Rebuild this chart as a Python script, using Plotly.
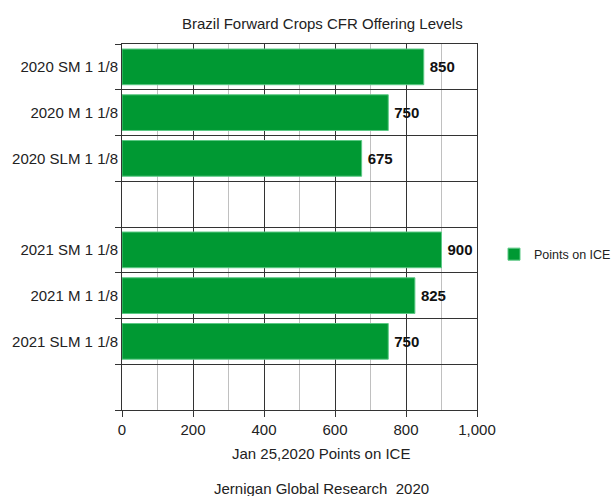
import plotly.graph_objects as go

categories = ["2020 SM 1 1/8", "2020 M 1 1/8", "2020 SLM 1 1/8", "gap1",
              "2021 SM 1 1/8", "2021 M 1 1/8", "2021 SLM 1 1/8", "gap2"]
tick_labels = ["2020 SM 1 1/8", "2020 M 1 1/8", "2020 SLM 1 1/8", "",
               "2021 SM 1 1/8", "2021 M 1 1/8", "2021 SLM 1 1/8", ""]
values = [850, 750, 675, None, 900, 825, 750, None]
series_name = "Points on ICE"
title = "Brazil Forward Crops CFR Offering Levels"
x_title = "Jan 25,2020 Points on ICE"
footer = "Jernigan Global Research  2020"

FONT = "Liberation Sans, Arial, sans-serif"
W, H = 615, 496
L, R, T, B = 122, 138, 44, 86
pw, ph = W - L - R, H - T - B

def px_to_paper_x(px):
    return (px - L) / pw

def px_to_paper_y(py):
    return (H - B - py) / ph

texts = ["" if v is None else f"\u2009{v}" for v in values]

fig = go.Figure()
fig.add_trace(go.Bar(
    y=categories, x=values, orientation="h", name=series_name,
    marker=dict(color="#009933", line=dict(color="#5cc985", width=1)),
    text=texts, textposition="outside", cliponaxis=False,
    textfont=dict(family=FONT, size=15, color="#111111", weight="bold"),
    showlegend=True,
))

fig.update_layout(
    width=W, height=H,
    margin=dict(l=L, r=R, t=T, b=B, autoexpand=False),
    paper_bgcolor="white", plot_bgcolor="white",
    font=dict(family=FONT, size=15, color="#222222"),
    bargap=0.22,
    legend=dict(x=px_to_paper_x(494), y=px_to_paper_y(254.5), xanchor="left", yanchor="middle",
                font=dict(size=12.5, color="#222222"), bgcolor="rgba(0,0,0,0)"),
    annotations=[
        dict(text=title, x=px_to_paper_x(322), y=px_to_paper_y(23), xref="paper", yref="paper",
             xanchor="center", yanchor="middle", showarrow=False, font=dict(size=15, color="#222222")),
        dict(text=x_title, x=px_to_paper_x(321), y=px_to_paper_y(454), xref="paper", yref="paper",
             xanchor="center", yanchor="middle", showarrow=False, font=dict(size=15, color="#222222")),
        dict(text=footer, x=px_to_paper_x(321), y=px_to_paper_y(488), xref="paper", yref="paper",
             xanchor="center", yanchor="middle", showarrow=False, font=dict(size=15, color="#222222")),
    ],
)

fig.update_xaxes(
    range=[0, 1000], dtick=200, tick0=0, tickformat=",",
    showgrid=True, gridcolor="#333333", gridwidth=1,
    minor=dict(dtick=100, showgrid=True, gridcolor="#c0c0c0", gridwidth=1, ticks=""),
    ticks="outside", ticklen=6, tickcolor="#333333",
    showline=True, linecolor="#333333", linewidth=1, mirror=True,
    zeroline=False, fixedrange=True,
)
fig.update_yaxes(
    type="category", categoryorder="array", categoryarray=categories,
    autorange="reversed",
    tickmode="array", tickvals=categories, ticktext=tick_labels,
    tickson="boundaries", ticks="outside", ticklen=6, tickcolor="#333333",
    showgrid=True, gridcolor="#333333", gridwidth=1,
    showline=True, linecolor="#333333", linewidth=1, mirror=True,
    zeroline=False, fixedrange=True,
)

fig.write_html("out.html", config={"displayModeBar": False})
